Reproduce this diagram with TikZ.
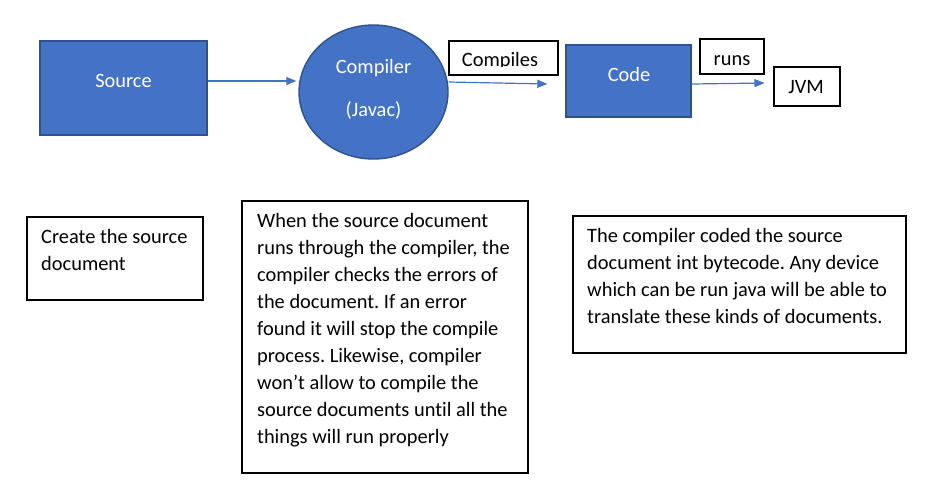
\documentclass[tikz,border=0pt]{standalone}
\usepackage{fontspec}
\setmainfont{Carlito}[Ligatures={NoCommon}]
\frenchspacing
\usetikzlibrary{arrows.meta,shapes.geometric}
\definecolor{officeblue}{HTML}{4472C4}
\definecolor{officeedge}{HTML}{2F528F}
\tikzset{
  blueshape/.style={draw=officeedge, fill=officeblue, line width=1.4pt, inner sep=0pt},
  whitetext/.style={text=white, font=\fontsize{20.4}{27}\selectfont, inner sep=0pt},
  blacktext/.style={text=black, font=\fontsize{20.4}{27}\selectfont, inner sep=0pt},
  labelbox/.style={draw=black, line width=1.1pt, inner sep=0pt, rectangle},
  bodytext/.style={text=black, font=\fontsize{20.4}{27}\selectfont, inner sep=0pt, align=left, anchor=north west},
  flow/.style={draw=officeblue, line width=1.2pt, -{Triangle[length=10pt,width=8pt]}},
}
\newcommand{\firststrut}{\rule{0pt}{16pt}}
\begin{document}
\begin{tikzpicture}[x=1pt,y=-1pt]
\useasboundingbox (0,0) rectangle (939,496);
% top row shapes
\node[blueshape, rectangle, minimum width=167pt, minimum height=94pt] (src) at (123.5,88) {};
\node[whitetext, anchor=base] (srct) at (123.5,87) {Source};
\node[blueshape, ellipse, minimum width=149pt, minimum height=134pt] (comp) at (373.5,92) {};
\node[whitetext, anchor=base] (compt1) at (373.5,73) {Compiler};
\node[whitetext, anchor=base] (compt2) at (373.5,116) {(Javac)};
\node[labelbox, minimum width=109pt, minimum height=34pt] (cbox) at (503.5,58) {};
\begin{scope}
  \clip (449,41) rectangle (558,66);
  \node[blacktext, anchor=base] (cboxt) at (500,66) {Compiles};
\end{scope}
\node[blueshape, rectangle, minimum width=125pt, minimum height=72pt] (code) at (628.5,81) {};
\node[whitetext, anchor=base] (codet) at (629,81) {Code};
\node[labelbox, minimum width=64pt, minimum height=35pt] (runs) at (732,56.5) {};
\node[blacktext, anchor=base] (runst) at (732,65) {runs};
\node[labelbox, minimum width=66pt, minimum height=39pt] (jvm) at (807,86.5) {};
\node[blacktext, anchor=base] (jvmt) at (806,93) {JVM};
% connectors
\draw[flow] ([yshift=7pt]src.east) -- ([shift={(-2pt,11pt)}]comp.west);
\draw[flow] ([yshift=10pt]comp.east) -- ([shift={(-18pt,-3pt)}]code.west);
\draw[flow] ([yshift=-3pt]code.east) -- ([shift={(-9pt,3.5pt)}]jvm.west);
% bottom text boxes
\node[labelbox, minimum width=176pt, minimum height=83pt] (b1) at (115,258.5) {};
\node[bodytext] (b1t) at (41,227) {\firststrut Create the source\\document};
\node[labelbox, minimum width=286pt, minimum height=272pt] (b2) at (385,337) {};
\node[bodytext] (b2t) at (257,211) {\firststrut When the source document\\runs through the compiler, the\\compiler checks the errors of\\the document. If an error\\found it will stop the compile\\process. Likewise, compiler\\won’t allow to compile the\\source documents until all the\\things will run properly};
\node[labelbox, minimum width=333pt, minimum height=137pt] (b3) at (739.5,284.5) {};
\node[bodytext] (b3t) at (587,226) {\firststrut The compiler coded the source\\document int bytecode. Any device\\which can be run java will be able to\\translate these kinds of documents.};
\end{tikzpicture}
\end{document}
